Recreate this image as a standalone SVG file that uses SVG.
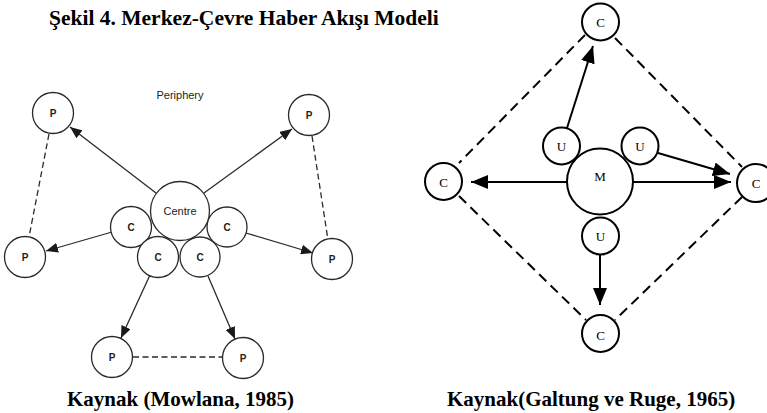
<svg xmlns="http://www.w3.org/2000/svg" width="767" height="413" viewBox="0 0 767 413">
<style>
.cap{font-family:"Liberation Serif","Times New Roman",serif;font-weight:bold;font-size:21px;fill:#000}
.ln{stroke:#2a2a2a;stroke-width:1.3;fill:none}
.lc{stroke:#2a2a2a;stroke-width:1.3;fill:#fff}
.lt{font-family:"Liberation Sans",Arial,sans-serif;font-size:10px;font-weight:bold;fill:#222;text-anchor:middle}
.rn{stroke:#000;stroke-width:2;fill:none}
.rc{stroke:#000;stroke-width:2;fill:#fff}
.rt{font-family:"Liberation Serif","Times New Roman",serif;font-size:13px;fill:#000;text-anchor:middle}
.ld{stroke-dasharray:6 3.5}
.rd{stroke-dasharray:10 6}
</style>
<defs>
<marker id="ah" markerUnits="userSpaceOnUse" markerWidth="12" markerHeight="10" refX="12" refY="5" orient="auto">
<path d="M0,0 L12,5 L0,10 z" fill="#1a1a1a"/>
</marker>
<marker id="bh" markerUnits="userSpaceOnUse" markerWidth="17" markerHeight="14" refX="17" refY="7" orient="auto">
<path d="M0,0 L17,7 L0,14 z" fill="#000"/>
</marker>
</defs>
<rect width="767" height="413" fill="#fff"/>
<text class="cap" x="49" y="25" style="font-size:21.5px">Şekil 4. Merkez-Çevre Haber Akışı Modeli</text>
<text class="cap" x="67" y="406">Kaynak (Mowlana, 1985)</text>
<text class="cap" x="447" y="406">Kaynak(Galtung ve Ruge, 1965)</text>

<g id="connectors-left">
<line class="ln" x1="156" y1="193" x2="70" y2="127" marker-end="url(#ah)"/>
<line class="ln" x1="204" y1="193" x2="292" y2="129" marker-end="url(#ah)"/>
<line class="ln" x1="112" y1="232" x2="46" y2="251" marker-end="url(#ah)"/>
<line class="ln" x1="246" y1="233" x2="313" y2="253" marker-end="url(#ah)"/>
<line class="ln" x1="150" y1="275" x2="121" y2="338" marker-end="url(#ah)"/>
<line class="ln" x1="208" y1="276" x2="235" y2="339" marker-end="url(#ah)"/>
<line class="ln ld" x1="49" y1="134" x2="29" y2="237"/>
<line class="ln ld" x1="312" y1="136" x2="328" y2="240"/>
<line class="ln ld" x1="133" y1="357" x2="223" y2="357"/>
</g>

<text class="lt" x="180" y="99" style="font-size:11px;font-weight:normal">Periphery</text>
<g id="p-tl"><circle class="lc" cx="53" cy="113" r="20.5"/><text class="lt" x="53" y="117">P</text></g>
<g id="p-tr"><circle class="lc" cx="309" cy="115" r="20.5"/><text class="lt" x="309" y="119">P</text></g>
<g id="p-ml"><circle class="lc" cx="25" cy="257" r="20.5"/><text class="lt" x="25" y="261">P</text></g>
<g id="p-mr"><circle class="lc" cx="332" cy="259" r="20.5"/><text class="lt" x="332" y="263">P</text></g>
<g id="p-bl"><circle class="lc" cx="112" cy="357" r="20.5"/><text class="lt" x="112" y="361">P</text></g>
<g id="p-br"><circle class="lc" cx="243" cy="358" r="20.5"/><text class="lt" x="243" y="362">P</text></g>
<g id="c-l"><circle class="lc" cx="131" cy="227" r="20.5"/><text class="lt" x="131" y="231">C</text></g>
<g id="c-r"><circle class="lc" cx="227" cy="227" r="20"/><text class="lt" x="227" y="231">C</text></g>
<g id="c-bl"><circle class="lc" cx="158" cy="257" r="20.5"/><text class="lt" x="158" y="261">C</text></g>
<g id="c-br"><circle class="lc" cx="200" cy="257" r="20"/><text class="lt" x="200" y="261">C</text></g>
<g id="centre"><circle class="lc" cx="180" cy="211" r="29.5"/><text class="lt" x="180" y="215" style="font-size:11px;font-weight:normal">Centre</text></g>

<g id="connectors-right">
<line class="rn rd" x1="585" y1="35" x2="459" y2="163"/>
<line class="rn rd" x1="615" y1="38" x2="742" y2="167"/>
<line class="rn rd" x1="459" y1="196" x2="586" y2="320"/>
<line class="rn rd" x1="742" y1="197" x2="615" y2="320"/>
<line class="rn" x1="567" y1="128" x2="593" y2="46" marker-end="url(#bh)"/>
<line class="rn" x1="567" y1="182" x2="471" y2="182" marker-end="url(#bh)"/>
<line class="rn" x1="633" y1="182" x2="731" y2="182" marker-end="url(#bh)"/>
<line class="rn" x1="658" y1="153" x2="730" y2="174" marker-end="url(#bh)"/>
<line class="rn" x1="600" y1="255" x2="600" y2="305" marker-end="url(#bh)"/>
</g>

<g id="rc-top"><circle class="rc" cx="600.5" cy="22" r="18.5"/><text class="rt" x="600.5" y="27">C</text></g>
<g id="rc-left"><circle class="rc" cx="443.5" cy="181.5" r="18.5"/><text class="rt" x="443.5" y="186.5">C</text></g>
<g id="rc-right"><circle class="rc" cx="756" cy="183" r="19"/><text class="rt" x="756" y="188">C</text></g>
<g id="rc-bottom"><circle class="rc" cx="600.5" cy="333.5" r="18.5"/><text class="rt" x="600.5" y="340">C</text></g>
<g id="m"><circle class="rc" cx="600" cy="181.5" r="33"/><text class="rt" x="600" y="181">M</text></g>
<g id="u-tl"><circle class="rc" cx="561.5" cy="146" r="18.5"/><text class="rt" x="561.5" y="151">U</text></g>
<g id="u-tr"><circle class="rc" cx="640" cy="146" r="18.5"/><text class="rt" x="640" y="151">U</text></g>
<g id="u-b"><circle class="rc" cx="600.5" cy="236" r="18.5"/><text class="rt" x="600.5" y="241">U</text></g>
</svg>
